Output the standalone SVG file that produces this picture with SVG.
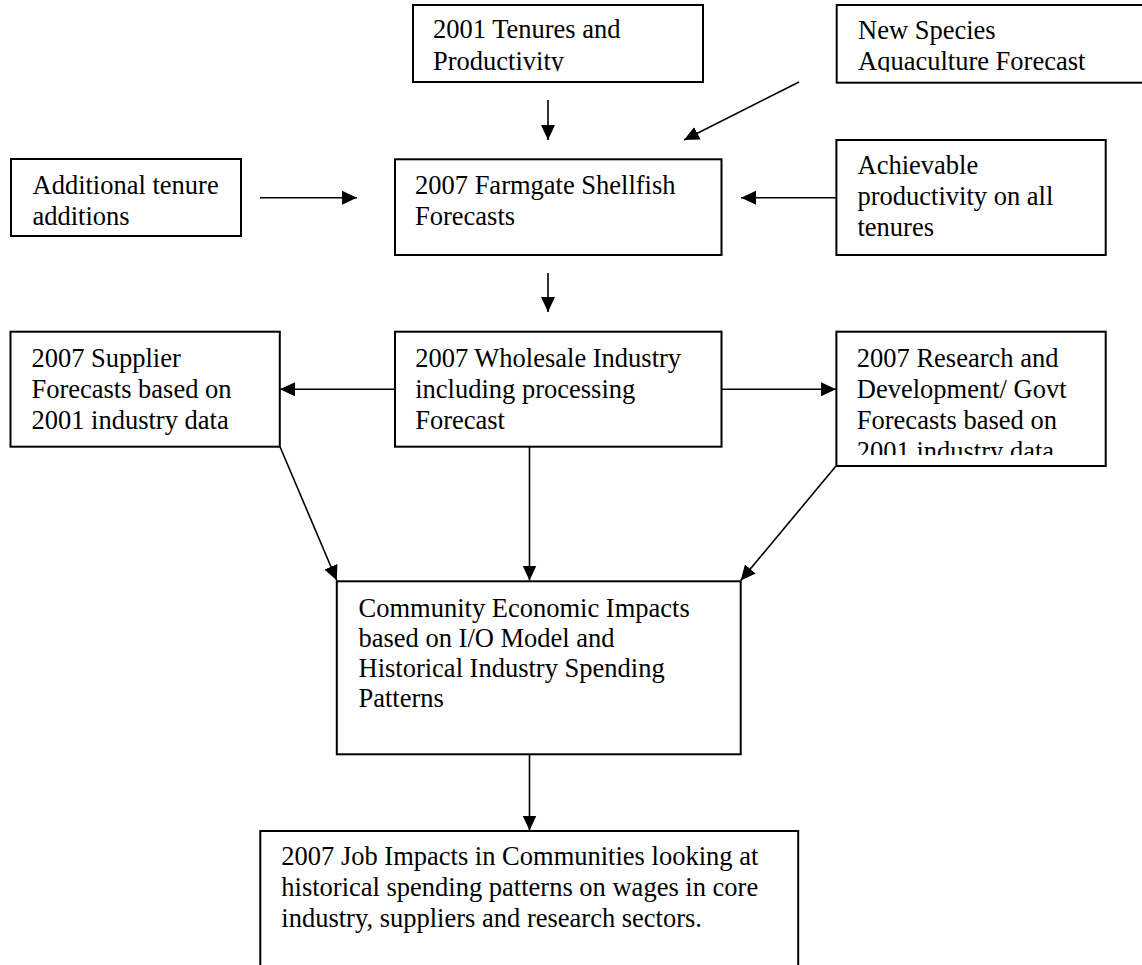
<svg xmlns="http://www.w3.org/2000/svg" width="1142" height="965" viewBox="0 0 1142 965">
<style>
.box{fill:#fff;stroke:#000;stroke-width:2}
.t{font-family:"Liberation Serif","Times New Roman",serif;font-size:26.5px;fill:#000}
.c{stroke:#000;stroke-width:1.6;fill:none}
</style>
<defs>
<marker id="ah" markerUnits="userSpaceOnUse" markerWidth="15" markerHeight="14" refX="15" refY="7" orient="auto">
<path d="M0,0 L15,7 L0,14 z" fill="#000"/>
</marker>
<clipPath id="clipTen"><rect x="413" y="5" width="290" height="66.3"/></clipPath>
<clipPath id="clipNew"><rect x="836" y="5" width="310" height="66.8"/></clipPath>
<clipPath id="clipRes"><rect x="836" y="332" width="270" height="123"/></clipPath>
</defs>
<rect width="1142" height="965" fill="#fff"/>

<g id="connectors">
<line class="c" x1="548" y1="100" x2="548" y2="140" marker-end="url(#ah)"/>
<line class="c" x1="799" y1="82" x2="684" y2="140" marker-end="url(#ah)"/>
<line class="c" x1="260" y1="197.7" x2="357" y2="197.7" marker-end="url(#ah)"/>
<line class="c" x1="836" y1="197.7" x2="741" y2="197.7" marker-end="url(#ah)"/>
<line class="c" x1="548" y1="273" x2="548" y2="312" marker-end="url(#ah)"/>
<line class="c" x1="395" y1="389.3" x2="280" y2="389.3" marker-end="url(#ah)"/>
<line class="c" x1="722" y1="389.3" x2="836" y2="389.3" marker-end="url(#ah)"/>
<line class="c" x1="280" y1="446.7" x2="336.8" y2="580.5" marker-end="url(#ah)"/>
<line class="c" x1="529.5" y1="446.7" x2="529.5" y2="580.5" marker-end="url(#ah)"/>
<line class="c" x1="836" y1="466" x2="740.7" y2="580.5" marker-end="url(#ah)"/>
<line class="c" x1="529.5" y1="754.3" x2="529.5" y2="830.5" marker-end="url(#ah)"/>
</g>

<g id="n-tenures">
<rect class="box" x="413" y="5" width="290" height="77"/>
<g clip-path="url(#clipTen)">
<text class="t" x="433" y="38">2001 Tenures and</text>
<text class="t" x="433" y="69.5">Productivity</text>
</g>
</g>

<g id="n-newspecies">
<rect class="box" x="836.7" y="5" width="320" height="77.7"/>
<g clip-path="url(#clipNew)">
<text class="t" x="858" y="38.5">New Species</text>
<text class="t" x="858" y="70">Aquaculture Forecast</text>
</g>
</g>

<g id="n-additional">
<rect class="box" x="11" y="159" width="230" height="77"/>
<text class="t" x="32.5" y="193.5">Additional tenure</text>
<text class="t" x="32.5" y="224.5">additions</text>
</g>

<g id="n-farmgate">
<rect class="box" x="395" y="159.3" width="326.5" height="95.7"/>
<text class="t" x="415" y="194">2007 Farmgate Shellfish</text>
<text class="t" x="415" y="225">Forecasts</text>
</g>

<g id="n-achievable">
<rect class="box" x="836.4" y="140" width="269.3" height="115"/>
<text class="t" x="857.5" y="174.3">Achievable</text>
<text class="t" x="857.5" y="205.3">productivity on all</text>
<text class="t" x="857.5" y="236">tenures</text>
</g>

<g id="n-supplier">
<rect class="box" x="10.5" y="331.7" width="269.3" height="115"/>
<text class="t" x="31.4" y="367.3">2007 Supplier</text>
<text class="t" x="31.4" y="398.3">Forecasts based on</text>
<text class="t" x="31.4" y="429">2001 industry data</text>
</g>

<g id="n-wholesale">
<rect class="box" x="395" y="331.7" width="326.5" height="115"/>
<text class="t" x="415.2" y="367.3">2007 Wholesale Industry</text>
<text class="t" x="415.2" y="398.3">including processing</text>
<text class="t" x="415.2" y="429">Forecast</text>
</g>

<g id="n-research">
<rect class="box" x="836.4" y="331.7" width="269.3" height="134.3"/>
<g clip-path="url(#clipRes)">
<text class="t" x="856.8" y="367.3">2007 Research and</text>
<text class="t" x="856.8" y="398.3">Development/ Govt</text>
<text class="t" x="856.8" y="429">Forecasts based on</text>
<text class="t" x="856.8" y="459.8">2001 industry data</text>
</g>
</g>

<g id="n-community">
<rect class="box" x="336.8" y="581.3" width="403.9" height="173"/>
<text class="t" x="358.5" y="616.7">Community Economic Impacts</text>
<text class="t" x="358.5" y="647.3">based on I/O Model and</text>
<text class="t" x="358.5" y="677.3">Historical Industry Spending</text>
<text class="t" x="358.5" y="707.3">Patterns</text>
</g>

<g id="n-jobs">
<rect class="box" x="260.3" y="831" width="537.9" height="150"/>
<text class="t" x="281.3" y="865">2007 Job Impacts in Communities looking at</text>
<text class="t" x="281.3" y="895.7">historical spending patterns on wages in core</text>
<text class="t" x="281.3" y="926.7">industry, suppliers and research sectors.</text>
</g>
</svg>
